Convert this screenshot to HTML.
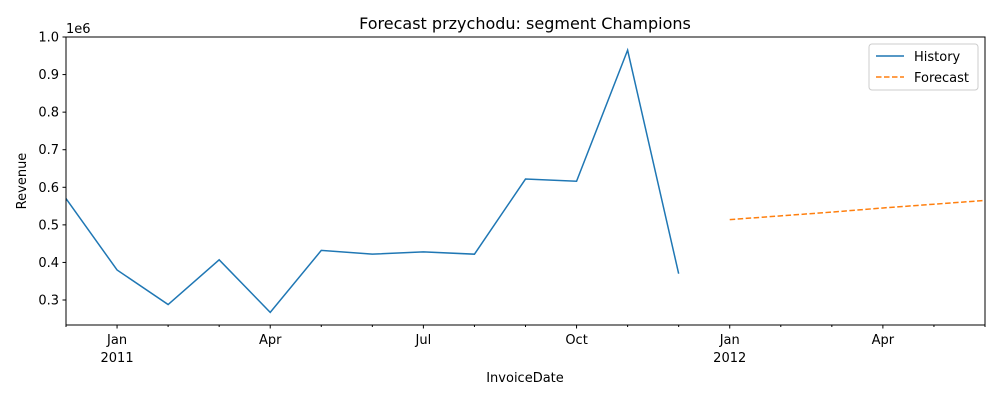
<!DOCTYPE html>
<html><head><meta charset="utf-8"><style>
body{margin:0;background:#fff;font-family:"Liberation Sans","DejaVu Sans",sans-serif;}
svg text{font-family:"DejaVu Sans","Liberation Sans",sans-serif;fill:#000;}
</style></head><body>
<svg id="chart" width="1000" height="400">
<text x="525" y="29" font-size="16" text-anchor="middle">Forecast przychodu: segment Champions</text>
<g id="yaxis"></g><g id="xaxis"></g><g id="series"></g>
<rect x="66" y="37" width="919" height="288" fill="none" stroke="#000" stroke-width="1"/>
<text x="66" y="33" font-size="13">1e6</text>
<text x="525" y="382" font-size="13" text-anchor="middle">InvoiceDate</text>
<text transform="translate(26,181) rotate(-90)" font-size="13" text-anchor="middle">Revenue</text>
<g>
<rect x="869" y="44" width="109" height="46" rx="3" fill="#fff" stroke="#ccc"/>
<line x1="876" y1="56" x2="904" y2="56" stroke="#1f77b4" stroke-width="1.5"/>
<text x="914" y="61" font-size="13">History</text>
<line x1="876" y1="77" x2="904" y2="77" stroke="#ff7f0e" stroke-width="1.5" stroke-dasharray="5.5,2.5"/>
<text x="914" y="82" font-size="13">Forecast</text>
</g>
</svg>
<script>
const historyValues=[0.57,0.38,0.288,0.407,0.267,0.432,0.422,0.428,0.422,0.622,0.616,0.965,0.37];
const forecastValues=[0.514,0.524,0.534,0.545,0.555,0.565];
const yTicks=[0.3,0.4,0.5,0.6,0.7,0.8,0.9,1.0];
const yTickLabels=["0.3","0.4","0.5","0.6","0.7","0.8","0.9","1.0"];
const xMajorIdx=[1,4,7,10,13,16];
const xMajorLabels=["Jan\n2011","Apr","Jul","Oct","Jan\n2012","Apr"];
const NS="http://www.w3.org/2000/svg";
const X0=66,X1=985,Y0=37,Y1=325,NMONTHS=18,YMIN=0.2335,YMAX=1.0;
const xs=i=>X0+(X1-X0)*i/NMONTHS;
const ys=v=>Y1-(Y1-Y0)*(v-YMIN)/(YMAX-YMIN);
function mk(t,a,p){const e=document.createElementNS(NS,t);for(const k in a)e.setAttribute(k,a[k]);p.appendChild(e);return e;}
const ya=document.getElementById('yaxis'),xa=document.getElementById('xaxis'),sg=document.getElementById('series');
yTicks.forEach((v,i)=>{const y=ys(v);
 const l=mk('line',{x1:X0-3.5,x2:X0,y1:y,y2:y,stroke:'#000'},ya);
 
 
 const t=mk('text',{x:X0-7,y:y+4.5,'font-size':13,'text-anchor':'end'},ya);t.textContent=yTickLabels[i];
 
 });
for(let i=0;i<=NMONTHS;i++){const x=xs(i);const maj=xMajorIdx.includes(i);
 const l=mk('line',{x1:x,x2:x,y1:Y1,y2:Y1+(maj?3.5:2),stroke:'#000'},xa);
 
 }
xMajorIdx.forEach((idx,i)=>{const parts=xMajorLabels[i].split('\n');
 parts.forEach((p,j)=>{const t=mk('text',{x:xs(idx),y:344+j*18,'font-size':13,'text-anchor':'middle'},xa);t.textContent=p;
 
 });});
const hp=historyValues.map((v,i)=>xs(i)+','+ys(v)).join(' ');
const h=mk('polyline',{points:hp,fill:'none',stroke:'#1f77b4','stroke-width':1.5},sg);


const off=historyValues.length;
const fp=forecastValues.map((v,i)=>xs(off+i)+','+ys(v)).join(' ');
const f=mk('polyline',{points:fp,fill:'none',stroke:'#ff7f0e','stroke-width':1.5,'stroke-dasharray':'5.5,2.5'},sg);


</script>
</body></html>
